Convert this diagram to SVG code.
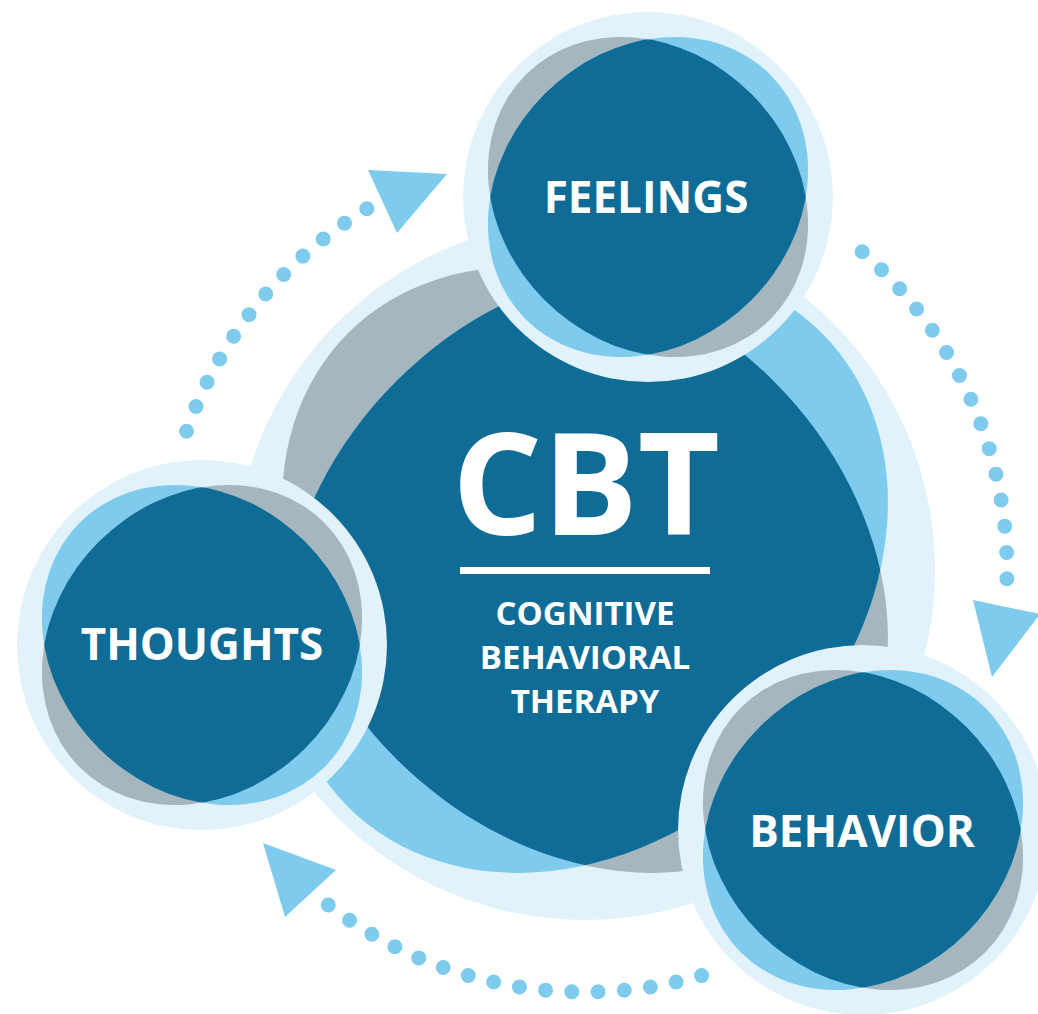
<svg xmlns="http://www.w3.org/2000/svg" width="1038" height="1014" viewBox="0 0 1038 1014">
<style>
.halo{fill:#e1f2fa}
.grey{fill:#a5b6bf}
.lite{fill:#7fcbee}
.dark{fill:#0e6c96}
.lbl{font-family:"Open Sans","Liberation Sans",sans-serif;font-weight:700;fill:#ffffff;text-anchor:middle}
.dots{fill:none;stroke:#7fcbee;stroke-width:15;stroke-linecap:round}
.head{fill:#7fcbee}
</style>
<defs>
<clipPath id="clipS" clipPathUnits="userSpaceOnUse"><ellipse cx="0" cy="0" rx="173" ry="146" transform="rotate(-45)"/></clipPath>
<clipPath id="clipB" clipPathUnits="userSpaceOnUse"><ellipse cx="0" cy="0" rx="335" ry="267" transform="rotate(-45)"/></clipPath>
</defs>
<rect width="1038" height="1014" fill="#ffffff"/>

<g id="connectors">
<path class="dots" stroke-dasharray="0 26.55" d="M186.5,431.2 A422,422 0 0 1 367.0,208.6"/>
<polygon class="head" points="368,170 447,174 397,233"/>
<path class="dots" stroke-dasharray="0 26.37" d="M862.2,251.8 A422,422 0 0 1 1006.9,578.8"/>
<polygon class="head" points="973,600 1040,614 992,677"/>
<path class="dots" stroke-dasharray="0 26.27" d="M701.6,975.6 A422,422 0 0 1 328.1,904.8"/>
<polygon class="head" points="263,843 336,870 285,917"/>
</g>

<g id="cbt" transform="translate(585,570)">
<circle class="halo" r="350"/>
<ellipse class="grey" rx="335" ry="267" transform="rotate(45)"/>
<ellipse class="lite" rx="335" ry="267" transform="rotate(-45)"/>
<g clip-path="url(#clipB)"><ellipse class="dark" rx="335" ry="267" transform="rotate(45)"/></g>
<text class="lbl" x="1" y="-35" font-size="142">CBT</text>
<rect x="-125" y="-3" width="250" height="7" fill="#ffffff"/>
<text class="lbl" x="0" y="55" font-size="33">COGNITIVE</text>
<text class="lbl" x="0" y="99" font-size="33">BEHAVIORAL</text>
<text class="lbl" x="0" y="143" font-size="33">THERAPY</text>
</g>

<g id="feelings" transform="translate(648,197)">
<circle class="halo" r="185"/>
<ellipse class="grey" rx="173" ry="146" transform="rotate(45)"/>
<ellipse class="lite" rx="173" ry="146" transform="rotate(-45)"/>
<g clip-path="url(#clipS)"><ellipse class="dark" rx="173" ry="146" transform="rotate(45)"/></g>
<text class="lbl" x="-2" y="16" font-size="44">FEELINGS</text>
</g>

<g id="thoughts" transform="translate(202,645)">
<circle class="halo" r="185"/>
<ellipse class="lite" rx="173" ry="146" transform="rotate(45)"/>
<ellipse class="grey" rx="173" ry="146" transform="rotate(-45)"/>
<g clip-path="url(#clipS)"><ellipse class="dark" rx="173" ry="146" transform="rotate(45)"/></g>
<text class="lbl" x="0" y="15" font-size="44">THOUGHTS</text>
</g>

<g id="behavior" transform="translate(863,830)">
<circle class="halo" r="185"/>
<ellipse class="grey" rx="173" ry="146" transform="rotate(45)"/>
<ellipse class="lite" rx="173" ry="146" transform="rotate(-45)"/>
<g clip-path="url(#clipS)"><ellipse class="dark" rx="173" ry="146" transform="rotate(45)"/></g>
<text class="lbl" x="-1" y="17" font-size="44">BEHAVIOR</text>
</g>
</svg>
